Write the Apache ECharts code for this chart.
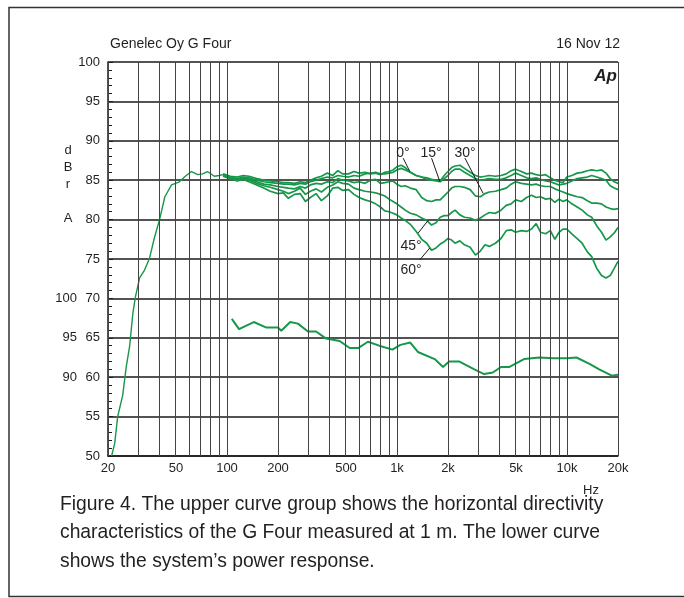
<!DOCTYPE html>
<html><head><meta charset="utf-8">
<script src="https://cdn.jsdelivr.net/npm/echarts@6/dist/echarts.min.js"></script>
<style>html,body{margin:0;padding:0;background:#fff}#c{width:684px;height:598px}</style>
</head><body><div id="c"></div>
<script>
// ---- data ----
const lowFreq = [21, 21.9, 22.8, 24.4, 25.6, 26.8, 28, 29, 30.7, 32.8, 35.1, 37.5, 40.2, 43.2, 47.3, 52.6, 57, 61.9, 67.6, 72, 77, 84.4, 90, 95];
const lowDb   = [50.0, 51.6, 55.0, 57.7, 61.3, 63.9, 68.1, 70.2, 72.6, 73.6, 75.1, 77.7, 80.0, 82.9, 84.4, 84.8, 85.5, 86.1, 85.7, 85.8, 86.1, 85.5, 85.6, 85.7];

const dirFreq = [95,105,115,125,135, 150,165,180,200,215, 230,250,270,290,310, 335,360,390,420,450,
  480,520,560,600,650, 700,750,800,850,900, 950,1000,1060,1120,1200, 1300,1400,1500,1600,1700,
  1800,1900,2000,2100,2200, 2350,2500,2700,2900,3100, 3300,3500,3800,4100,4400, 4700,5000,5400,5800,6200,
  6600,7000,7500,8000,8500, 9000,9500,10000,10700,11500, 12300,13200,14000,15000,16000, 17000,18000,19000,20000];

const deg0 = [85.8,85.5,85.4,85.6,85.5, 85.2,85.0,84.9,84.8,84.7, 84.7,84.6,84.8,84.7,85.0, 85.3,85.5,85.9,85.6,86.2,
  85.8,85.8,86.1,85.9,86.0, 85.8,85.9,85.7,86.0,86.1, 86.3,86.7,86.9,86.6,86.0, 85.6,85.4,85.3,85.1,85.0,
  84.9,85.6,86.1,86.6,86.8, 86.9,86.5,86.0,85.6,85.4, 85.5,85.6,85.5,85.6,85.8, 86.2,86.4,86.1,85.8,85.9,
  85.7,85.6,85.7,85.3,85.0, 84.8,84.7,85.4,85.6,85.9, 86.0,86.2,86.3,86.2,86.3, 85.9,85.2,84.8,84.6];
const deg15 = [85.6,85.3,85.2,85.4,85.3, 85.0,84.8,84.7,84.6,84.5, 84.5,84.4,84.6,84.5,84.8, 85.0,85.2,85.4,85.3,85.6,
  85.5,85.4,85.6,85.5,85.8, 85.9,86.0,85.8,85.8,85.9, 86.0,86.3,86.5,86.3,86.0, 85.6,85.4,85.1,85.0,84.9,
  84.8,85.2,85.6,86.1,86.4, 86.4,86.0,85.6,85.2,85.0, 85.1,85.2,85.1,85.1,85.3, 85.6,85.9,85.6,85.3,85.2,
  85.3,85.1,84.9,84.8,84.6, 84.4,84.5,84.6,84.9,85.2, 85.3,85.4,85.6,85.4,85.2, 85.0,84.3,84.0,83.8];
const deg30 = [85.6,85.4,85.1,85.3,85.1, 84.8,84.5,84.4,84.2,84.1, 84.0,83.9,84.2,84.0,84.4, 84.6,84.5,84.8,84.7,85.2,
  85.0,84.9,84.7,84.8,84.6, 85.0,85.1,84.6,84.7,84.8, 84.9,84.5,84.2,84.3,84.0, 83.8,82.8,82.4,82.3,82.5,
  82.5,83.0,83.5,84.0,84.2, 84.2,84.1,83.8,83.0,82.9, 83.3,83.5,83.6,83.8,84.0, 84.5,84.8,84.6,84.5,84.4,
  84.5,84.3,84.2,84.2,83.9, 83.7,83.5,83.3,83.1,82.9, 82.8,82.4,82.1,82.1,82.0, 81.6,81.4,81.3,81.4];
const deg45 = [85.5,85.2,85.0,85.2,85.0, 84.6,84.3,84.1,83.8,83.6, 83.3,83.6,84.0,83.2,83.6, 83.9,83.5,84.1,84.4,84.8,
  84.6,84.5,84.0,83.8,83.6, 83.5,83.4,83.2,83.0,82.6, 82.3,82.0,81.6,81.2,80.8, 80.6,80.2,79.9,79.3,79.6,
  80.3,80.5,80.5,80.9,81.2, 80.6,80.3,80.2,79.9,80.2, 80.6,80.9,80.8,81.2,81.8, 82.0,82.5,82.3,82.8,83.1,
  82.8,82.9,82.6,82.7,82.2, 82.6,82.3,82.5,82.0,81.6, 81.2,80.6,80.3,79.2,78.4, 77.4,77.8,78.3,79.0];
const deg60 = [85.6,85.2,84.9,85.1,84.8, 84.4,84.0,83.6,83.3,83.4, 82.7,83.2,83.3,82.3,82.8, 83.3,82.4,83.0,84.0,84.1,
  83.7,83.8,83.2,82.8,82.5, 82.3,82.0,81.6,81.1,81.0, 80.8,80.6,80.2,79.9,79.4, 78.5,77.5,77.0,76.1,76.4,
  76.9,77.2,77.6,77.4,77.0, 77.3,76.8,76.5,75.5,76.0, 76.8,76.6,77.0,77.6,78.6, 78.7,78.4,78.6,78.5,78.8,
  79.5,78.4,78.2,78.6,77.5, 78.4,78.8,78.8,78.2,77.6, 77.0,75.9,75.3,73.8,72.9, 72.6,72.9,73.8,74.7];

const powerFreq = [107,118,144,171,200,209,236,262,300,335,384,461,528,592,676,788,942,1050,1200,1330,1670,1870,2030,2320,2860,3260,3670,4100,4600,5600,6900,8300,10000,11400,13600,15500,18400,20000];
const powerDb   = [67.4,66.1,67.0,66.3,66.3,65.9,67.0,66.8,65.8,65.8,64.9,64.6,63.7,63.7,64.5,64.0,63.5,64.1,64.4,63.2,62.3,61.3,62.0,62.0,61.0,60.4,60.6,61.3,61.3,62.3,62.5,62.4,62.4,62.5,61.7,61.0,60.2,60.3];

// ticks / labels
const gridFreqs = [20,30,40,50,60,70,80,90,100,200,300,400,500,600,700,800,900,1000,2000,3000,4000,5000,6000,7000,8000,9000,10000,20000];
const xTickValues = [20,50,100,200,500,1000,2000,5000,10000,20000];
const xTickLabels = ['20','50','100','200','500','1k','2k','5k','10k','20k'];
const powerTickAt   = [60,65,70];
const powerTickText = ['90','95','100'];

// annotations (angle labels and their leader lines), in freq / dB
const angleNames   = ['0°','15°','30°','45°','60°'];
const angleAnchorF = [1092,1586,2516,1209,1209];
const angleAnchorDb= [88.5,88.5,88.5,76.6,73.6];
const leaderFrom = [[1090,87.8],[1601,87.8],[2516,87.8],[1336,78.3],[1366,74.9]];
const leaderTo   = [[1193,86.1],[1793,84.8],[3224,83.3],[1528,79.9],[1564,76.4]];

// ---- chart ----
const FONT = '"Liberation Sans", Arial, Helvetica, sans-serif';
const INK = '#231f20';
const GREEN = '#17974a';
const zip = (a,b) => a.map((v,i)=>[v,b[i]]);
const powerLookup = {};
powerTickAt.forEach((v,i)=>{ powerLookup[v] = powerTickText[i]; });

const chart = echarts.init(document.getElementById('c'), null, {renderer:'canvas'});

function curve(name, ys) {
  return { name, type:'line', data: zip(dirFreq, ys), symbol:'none', smooth:false, z:4,
    lineStyle:{ color: GREEN, width: 1.7 }, silent:true };
}

chart.setOption({
  animation:false,
  textStyle:{ fontFamily: FONT, color: INK },
  grid:{ left:108, right:66, top:62, bottom:142, containLabel:false },
  xAxis:{ type:'log', logBase:10, min:20, max:20000,
    axisLine:{ show:true, lineStyle:{ color:'#1a1a1a', width:1.5 } },
    axisTick:{ show:false }, axisLabel:{ show:false }, splitLine:{ show:false } },
  yAxis:[
    { type:'value', min:50, max:100, interval:5, position:'left',
      axisLine:{ show:true, lineStyle:{ color:'#1a1a1a', width:1.5 } },
      axisTick:{ show:true, inside:true, length:5, lineStyle:{ color:'#1a1a1a' } },
      minorTick:{ show:true, splitNumber:5, length:4, lineStyle:{ color:'#1a1a1a', width:1 } },
      axisLabel:{ fontSize:13, color:INK, margin:8, fontFamily:FONT },
      splitLine:{ show:true, lineStyle:{ color:'#1a1a1a', width:1.6 } } },
    { type:'value', min:50, max:100, interval:5, position:'left', offset:23,
      axisLine:{ show:false }, axisTick:{ show:false }, splitLine:{ show:false },
      axisLabel:{ fontSize:13, color:INK, margin:8, fontFamily:FONT,
        formatter: v => powerLookup[v] || '' } }
  ],
  series:[
    { name:'grid', type:'line', data:[[20,50]], symbol:'none', z:1, silent:true,
      lineStyle:{ width:0 },
      markLine:{ silent:true, symbol:['none','none'], label:{ show:false },
        lineStyle:{ color:'#444', width:1, type:'solid' },
        data: gridFreqs.map(f => ({ xAxis:f })) } },
    { name:'low', type:'line', data: zip(lowFreq, lowDb), symbol:'none', z:4, silent:true,
      lineStyle:{ color:GREEN, width:1.4 } },
    curve('0°', deg0), curve('15°', deg15), curve('30°', deg30), curve('45°', deg45), curve('60°', deg60),
    { name:'power', type:'line', data: zip(powerFreq, powerDb), symbol:'none', z:4, silent:true,
      lineStyle:{ color:GREEN, width:2 } },
    { name:'leaders', type:'line', data:[[20,50]], symbol:'none', z:5, silent:true,
      lineStyle:{ width:0 },
      markLine:{ silent:true, symbol:['none','none'], label:{ show:false },
        lineStyle:{ color:'#1a1a1a', width:1, type:'solid', opacity:1 },
        data: leaderFrom.map((a,i)=>[{ coord:a }, { coord:leaderTo[i] }]) } }
  ]
});

// text placed through the chart's own axis scales
const txt = (x, y, text, font, align, vAlign, extra) => ({
  type:'text', x, y, silent:true, z:10,
  style: Object.assign({ text, font: font + ' ' + FONT, fill: INK, align, verticalAlign: vAlign }, extra || {})
});
const graphics = [
  { type:'rect', shape:{ x:9, y:7.5, width:700, height:589 }, silent:true,
    style:{ fill:'none', stroke:'#333', lineWidth:1.5 } },
  txt(110, 44, 'Genelec Oy G Four', '14px', 'left', 'middle'),
  txt(620, 44, '16 Nov 12', '14px', 'right', 'middle'),
  txt(617, 76, 'Ap', 'bold italic 17px', 'right', 'middle'),
  txt(68, 142, 'd\nB\nr\n\nA', '13px', 'center', 'top', { lineHeight:17 }),
  txt(591, 490, 'Hz', '13px', 'center', 'middle'),
  txt(60, 490, 'Figure 4. The upper curve group shows the horizontal directivity\ncharacteristics of the G Four measured at 1 m. The lower curve\nshows the system’s power response.',
      '19.3px', 'left', 'top', { lineHeight:28.5 })
];
xTickValues.forEach((v,i) => {
  const p = chart.convertToPixel({ gridIndex:0 }, [v, 50]);
  graphics.push(txt(Math.round(p[0]), Math.round(p[1]) + 6, xTickLabels[i], '13px', 'center', 'top'));
});
angleNames.forEach((n,i) => {
  const p = chart.convertToPixel({ gridIndex:0 }, [angleAnchorF[i], angleAnchorDb[i]]);
  graphics.push(txt(Math.round(p[0]), Math.round(p[1]), n, '14px', 'center', 'middle'));
});
chart.setOption({ graphic: graphics });
</script></body></html>
